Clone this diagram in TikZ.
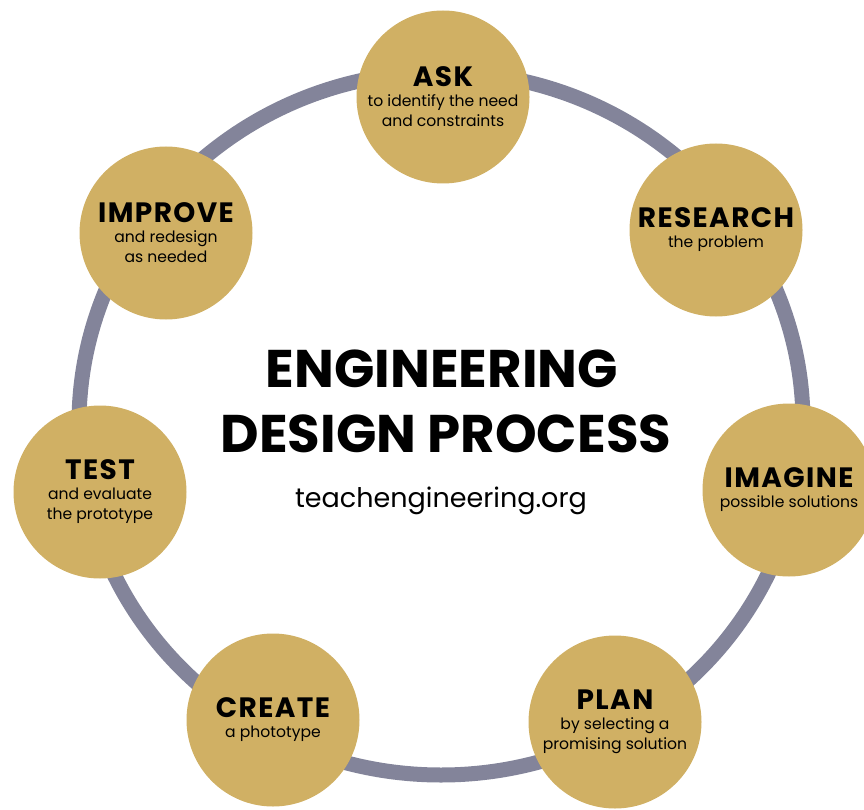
\documentclass[tikz,border=0pt]{standalone}
\usepackage{fontspec}
\setmainfont{Poppins}
\usepackage{xcolor}
\usepackage{tikz}
\definecolor{gold}{HTML}{D0B064}
\definecolor{ring}{HTML}{83849A}
\definecolor{ink}{HTML}{000000}
\newcommand{\stagetext}[2]{{\fontsize{28}{28}\selectfont\bfseries\addfontfeature{LetterSpace=5}#1}\\#2}
\tikzset{
  cycle/.style={draw=ring, line width=15pt},
  stage/.style={circle, fill=gold, minimum size=173pt, inner sep=0pt,
    align=center, text=ink, font=\fontsize{15.6}{20}\selectfont},
  title/.style={text=ink, font=\fontsize{53}{53}\selectfont\bfseries, anchor=base},
  site/.style={text=ink, font=\fontsize{27}{27}\selectfont, anchor=base}
}

\begin{document}
\begin{tikzpicture}[x=1pt, y=-1pt]
  \useasboundingbox (0,0) rectangle (864,810);
  \coordinate (C) at (441,423.5);
  \draw[cycle] (C) ellipse [x radius=362, y radius=351.5];

  \node[stage] (ask)      at (443,97)  {\stagetext{ASK}{to identify the need\\and constraints}};
  \node[stage] (research) at (716,230) {\stagetext{RESEARCH}{the problem}};
  \node[stage] (imagine)  at (789,490) {\stagetext{IMAGINE}{possible solutions}};
  \node[stage] (plan)     at (615,722) {\stagetext{PLAN}{by selecting a\\promising solution}};
  \node[stage] (create)   at (273,720) {\stagetext{CREATE}{a phototype}};
  \node[stage] (test)     at (100,492) {\stagetext{TEST}{and evaluate\\the prototype}};
  \node[stage] (improve)  at (166,233) {\stagetext{IMPROVE}{and redesign\\as needed}};

  \node[title] (title)  at (442,387) {ENGINEERING};
  \node[title] (title2) at (446,452) {DESIGN PROCESS};
  \node[site]  (url)    at (441,507) {teachengineering.org};
\end{tikzpicture}
\end{document}
